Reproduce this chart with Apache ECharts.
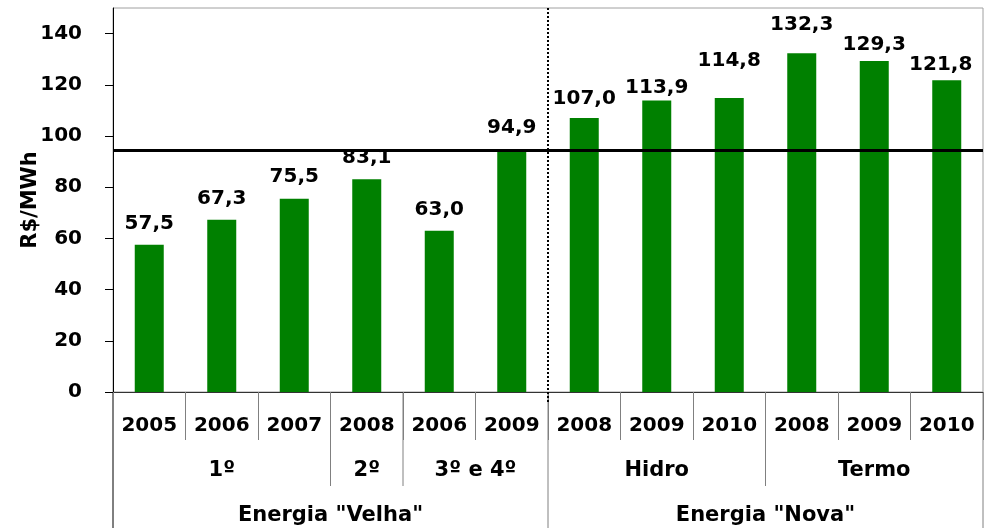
<!DOCTYPE html>
<html><head><meta charset="utf-8">
<script src="https://cdn.jsdelivr.net/npm/echarts@6/dist/echarts.min.js"></script>
<style>html,body{margin:0;padding:0;background:#fff}#c{width:990px;height:528px}</style>
</head><body><div id="c"></div>
<script>
// ---- data ----
const years = ['2005','2006','2007','2008','2006','2009','2008','2009','2010','2008','2009','2010'];
const prices = [57.5, 67.3, 75.5, 83.1, 63.0, 94.9, 107.0, 113.9, 114.8, 132.3, 129.3, 121.8];
const auctionLabels = ['1º', '2º', '3º e 4º', 'Hidro', 'Termo'];
const auctionSpans = [3, 1, 2, 3, 3];
const energyLabels = ['Energia "Velha"', 'Energia "Nova"'];
const energySpans = [6, 6];
const yTicks = [0, 20, 40, 60, 80, 100, 120, 140];
const yMax = 150;
const referencePrice = 94.5;

// ---- label placement styles (not data) ----
const labelGap = [14, 14, 15, 14, 14, 14, 12, 6, 30, 22, 9, 8];
const labelShiftX = [0, 0, 0, 0, 0, 0, 0, 0, 0, 0, 0, -6];

const FONT = 'DejaVu Sans';
const chart = echarts.init(document.getElementById('c'));

const fmt = v => v.toFixed(1).replace('.', ',');

chart.setOption({
  animation: false,
  backgroundColor: '#fff',
  grid: { left: 113, right: 7, top: 8, bottom: 136, show: true, borderColor: '#a0a0a0', borderWidth: 1 },
  xAxis: {
    type: 'category',
    data: years,
    axisLine: { show: true, lineStyle: { color: '#333', width: 1 } },
    axisTick: { show: true, interval: 0, length: 48, lineStyle: { color: '#808080', width: 1 } },
    axisLabel: { interval: 0, margin: 24, fontFamily: FONT, fontSize: 20, fontWeight: 'bold', color: '#000' },
    splitLine: { show: false }
  },
  yAxis: {
    type: 'value', min: 0, max: yMax, interval: 20,
    name: 'R$/MWh', nameLocation: 'middle', nameRotate: 90, nameGap: 72, nameMoveOverlap: false,
    nameTextStyle: { fontFamily: FONT, fontSize: 21, fontWeight: 'bold', color: '#000' },
    axisLine: { show: true, lineStyle: { color: '#000', width: 1 } },
    axisTick: { show: true, length: 8, lineStyle: { color: '#000' }, customValues: yTicks },
    axisLabel: { margin: 31, customValues: yTicks, fontFamily: FONT, fontSize: 20, fontWeight: 'bold', color: '#000' },
    splitLine: { show: false }
  },
  series: [{
    type: 'bar',
    barWidth: '40%',
    itemStyle: { color: '#008000' },
    label: {
      show: true, position: 'top',
      fontFamily: FONT, fontSize: 20, fontWeight: 'bold', color: '#000',
      formatter: p => fmt(p.value)
    },
    data: prices.map((v, i) => ({
      value: v,
      label: { distance: labelGap[i] - 3, offset: [labelShiftX[i], 0] }
    })),
    markLine: {
      silent: true, symbol: 'none', label: { show: false },
      lineStyle: { color: '#000', width: 3, type: 'solid' },
      data: [{ yAxis: referencePrice }]
    },
    z: 3
  }]
});

// ---- multi-level category axis drawn from the axis scale ----
function buildGroups() {
  const y0 = chart.convertToPixel({ yAxisIndex: 0 }, 0);
  const yTop = chart.convertToPixel({ yAxisIndex: 0 }, yMax);
  const c0 = chart.convertToPixel({ xAxisIndex: 0 }, 0);
  const c1 = chart.convertToPixel({ xAxisIndex: 0 }, 1);
  const bw = c1 - c0;
  const edge = i => c0 - bw / 2 + i * bw;
  const els = [];

  const energyBounds = [0];
  energySpans.forEach(s => energyBounds.push(energyBounds[energyBounds.length - 1] + s));
  const auctionBounds = [0];
  auctionSpans.forEach(s => auctionBounds.push(auctionBounds[auctionBounds.length - 1] + s));

  auctionBounds.forEach(b => {
    if (energyBounds.indexOf(b) >= 0) return;
    els.push({ type: 'line', silent: true, shape: { x1: edge(b), y1: y0, x2: edge(b), y2: y0 + 94 },
      style: { stroke: '#808080', lineWidth: 1 } });
  });
  energyBounds.forEach((b, k) => {
    els.push({ type: 'line', silent: true, shape: { x1: edge(b), y1: y0, x2: edge(b), y2: 528 },
      style: { stroke: k === 0 ? '#000' : '#808080', lineWidth: 1 } });
  });

  const mid = edge(energyBounds[1]);
  els.push({ type: 'line', silent: true, z: 10, shape: { x1: mid, y1: yTop, x2: mid, y2: y0 + 10 },
    style: { stroke: '#000', lineWidth: 2, lineDash: [2, 2] } });

  auctionLabels.forEach((t, i) => {
    const a = auctionBounds[i], b = auctionBounds[i + 1];
    els.push({ type: 'text', silent: true, x: (edge(a) + edge(b)) / 2, y: y0 + 79,
      style: { text: t, fill: '#000', font: 'bold 21px "' + FONT + '"', align: 'center', verticalAlign: 'middle' } });
  });
  energyLabels.forEach((t, i) => {
    const a = energyBounds[i], b = energyBounds[i + 1];
    els.push({ type: 'text', silent: true, x: (edge(a) + edge(b)) / 2, y: y0 + 124,
      style: { text: t, fill: '#000', font: 'bold 21px "' + FONT + '"', align: 'center', verticalAlign: 'middle' } });
  });
  chart.setOption({ graphic: els });
}
buildGroups();
</script>
</body></html>
